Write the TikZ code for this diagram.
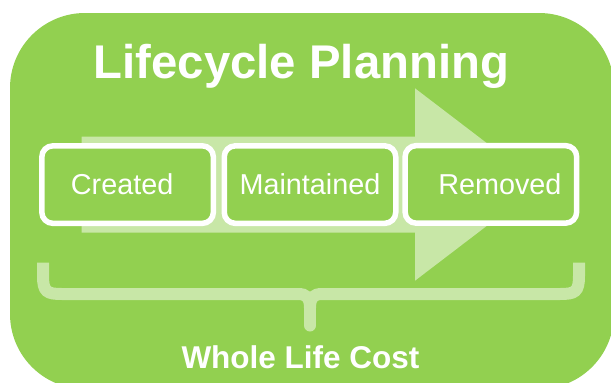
\documentclass[tikz,border=0pt]{standalone}
\usepackage{fontspec}
\setmainfont{Liberation Sans}
\definecolor{bggreen}{HTML}{92D050}
\definecolor{palegreen}{HTML}{C8E7A7}
\tikzset{
  stagebox/.style={draw=white, fill=bggreen, line width=5.5pt, rounded corners=11pt,
    minimum width=171.5pt, minimum height=77.5pt, inner sep=0pt,
    text=white, font=\fontsize{28.8}{31}\selectfont},
  titletext/.style={text=white, font=\fontsize{47.3}{51}\selectfont\bfseries, anchor=base, inner sep=0pt},
  costtext/.style={text=white, font=\fontsize{31.5}{34}\selectfont\bfseries, anchor=base, inner sep=0pt},
  brace/.style={draw=palegreen, line width=12pt}
}
\begin{document}
\begin{tikzpicture}[x=1pt, y=-1pt]
\useasboundingbox (0,0) rectangle (611,383);
\clip (0,0) rectangle (611,383);
% background panel
\fill[bggreen, rounded corners=75pt] (10,13) rectangle (614,389);
% title
\node[titletext] (title) at (301.5,78) {Lifecycle Planning};
% big arrow
\fill[palegreen] (81.7,136.5) -- (415,136.5) -- (415,88.3) -- (541,184.5)
  -- (415,280.7) -- (415,232.7) -- (81.7,232.7) -- cycle;
% stage boxes
\node[stagebox] (created) at (127.6,184.6) {Created\rule{11pt}{0pt}};
\node[stagebox] (maintained) at (310,184.6) {Maintained};
\node[stagebox] (removed) at (490.9,184.4) {\rule{18pt}{0pt}Removed};
% brace
\draw[brace] (43,262.5) -- (43,276) .. controls (43,292) and (47,294) .. (62,294)
  -- (298,294) .. controls (306,294) and (310,297) .. (310,308);
\draw[brace] (579,262.5) -- (579,276) .. controls (579,292) and (575,294) .. (560,294)
  -- (322,294) .. controls (314,294) and (310,297) .. (310,308);
\draw[brace, line cap=round] (310,306) -- (310,325.5);
% caption
\node[costtext] (cost) at (300.5,368) {Whole Life Cost};
\end{tikzpicture}
\end{document}
